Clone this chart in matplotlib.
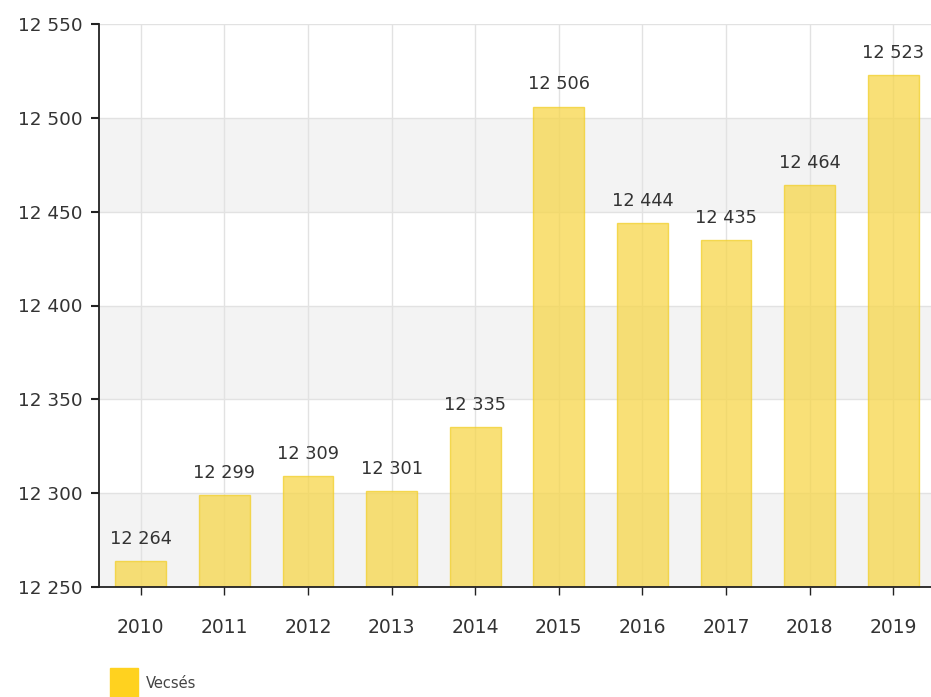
import matplotlib
matplotlib.use("Agg")
import matplotlib.pyplot as plt
import matplotlib.patches as mpatches

years = ["2010", "2011", "2012", "2013", "2014", "2015", "2016", "2017", "2018", "2019"]
values = [12264, 12299, 12309, 12301, 12335, 12506, 12444, 12435, 12464, 12523]
yticks = [12250, 12300, 12350, 12400, 12450, 12500, 12550]
series_name = "Vecsés"

plt.rcParams["font.family"] = ["DejaVu Sans"]

def fmt(v):
    return f"{v:,}".replace(",", " ")

fig = plt.figure(figsize=(9.31, 6.97), dpi=100)
ax = fig.add_axes([99/931, 1-587/697, (935-99)/931, (587-24)/697])

x = list(range(len(years)))
ax.set_xlim(-0.5, len(years) - 0.5)
ax.set_ylim(12250, 12550)

# alternating bands
for i, (lo, hi) in enumerate(zip(yticks[:-1], yticks[1:])):
    if i % 2 == 0:
        ax.axhspan(lo, hi, color="#f3f3f3", zorder=0, lw=0)
for t in yticks:
    ax.axhline(t, color="#e2e2e2", lw=1, zorder=0.5)
for xi in x:
    ax.axvline(xi, color="#e2e2e2", lw=1, zorder=0.5)

ax.bar(x, [v - 12250 for v in values], bottom=12250, width=0.61,
       color="#f7d64a", alpha=0.75, edgecolor="#f2cf2a", linewidth=1, zorder=2)
for xi, v in zip(x, values):
    ax.text(xi, v + 7, fmt(v), ha="center", va="bottom", fontsize=12.8, color="#333333", zorder=3)

ax.set_yticks(yticks)
ax.set_yticklabels([fmt(t) for t in yticks], fontsize=13.2, color="#333333")
ax.set_xticks(x)
ax.set_xticklabels(years, fontsize=13.5, color="#333333")
ax.tick_params(axis="y", length=6, width=1.5, color="#222222", pad=6)
ax.tick_params(axis="x", length=6, width=1, color="#222222", pad=16)

for s in ["top", "right"]:
    ax.spines[s].set_visible(False)
ax.spines["left"].set_color("#222222")
ax.spines["left"].set_linewidth(1.3)
ax.spines["bottom"].set_color("#222222")
ax.spines["bottom"].set_linewidth(1.3)

# legend
fig.patches.append(mpatches.Rectangle((110/931, 1-697/697), 28/931, 29/697,
                                      transform=fig.transFigure, color="#ffd21f", zorder=5))
fig.text(146/931, 1-683/697, series_name, fontsize=10.5, color="#444444", va="center", ha="left")

fig.savefig("out.png", dpi=100)
